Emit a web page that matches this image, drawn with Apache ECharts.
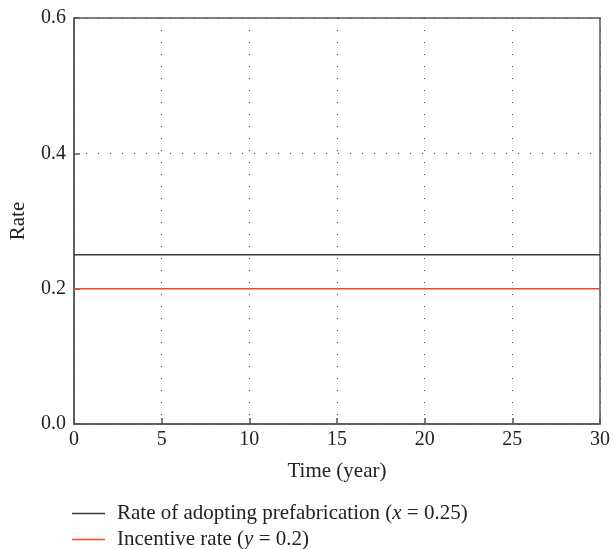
<!DOCTYPE html>
<html><head><meta charset="utf-8">
<script src="https://cdn.jsdelivr.net/npm/echarts@6/dist/echarts.min.js"></script>
<style>html,body{margin:0;padding:0;background:#fff}#c{width:613px;height:549px}</style>
</head><body><div id="c"></div>
<script>
const timeYears = [0, 30];
const adoptionRate = [0.25, 0.25];
const incentiveRate = [0.2, 0.2];
const xTicks = [0, 5, 10, 15, 20, 25, 30];
const yTicks = [0.0, 0.2, 0.4, 0.6];
const seriesNames = ['Rate of adopting prefabrication (x = 0.25)', 'Incentive rate (y = 0.2)'];

const font = '"Liberation Serif","DejaVu Serif",serif';
const axisCol = '#555';
const txt = '#222';
const fs = 20;
const fl = 21;
const legendText = {fontFamily: font, fontSize: fl, color: txt, padding: [0, 0, 0, 7],
  rich: {n: {fontFamily: font, fontSize: fl, color: txt}, i: {fontFamily: font, fontSize: fl, fontStyle: 'italic', color: txt}}};
function legendFmt(name) {
  if (name === seriesNames[0]) return '{n|Rate of adopting prefabrication (}{i|x}{n| = 0.25)}';
  return '{n|Incentive rate (}{i|y}{n| = 0.2)}';
}
const chart = echarts.init(document.getElementById('c'));
chart.setOption({
  animation: false,
  backgroundColor: '#fff',
  grid: {left: 71, right: 7, top: 18, bottom: 125, show: true, borderColor: axisCol, borderWidth: 1.5},
  legend: [
    {left: 72, top: 503, padding: 0, itemWidth: 33, itemHeight: 1.5, icon: 'rect',
      data: [seriesNames[0]], textStyle: legendText, formatter: legendFmt},
    {left: 72, top: 529, padding: 0, itemWidth: 33, itemHeight: 1.5, icon: 'rect',
      data: [seriesNames[1]], textStyle: legendText, formatter: legendFmt}
  ],
  xAxis: {
    type: 'value', min: xTicks[0], max: xTicks[xTicks.length - 1], interval: 5,
    name: 'Time (year)', nameLocation: 'middle', nameGap: 37,
    nameTextStyle: {fontFamily: font, fontSize: fl, color: txt},
    axisLine: {show: true, lineStyle: {color: axisCol, width: 1.5}},
    axisTick: {show: true, inside: true, length: 6, lineStyle: {color: axisCol, width: 1.5}},
    axisLabel: {fontFamily: font, fontSize: fs, color: txt, margin: 6},
    splitLine: {show: true, lineStyle: {color: '#444', width: 1, type: [1, 11]}}
  },
  yAxis: {
    type: 'value', min: yTicks[0], max: yTicks[yTicks.length - 1], interval: 0.2,
    name: 'Rate', nameLocation: 'middle', nameGap: 45, nameRotate: 90,
    nameTextStyle: {fontFamily: font, fontSize: fl, color: txt},
    axisLine: {show: true, lineStyle: {color: axisCol, width: 1.5}},
    axisTick: {show: true, inside: true, length: 6, lineStyle: {color: axisCol, width: 1.5}},
    axisLabel: {fontFamily: font, fontSize: fs, color: txt, margin: 8, formatter: v => v.toFixed(1)},
    splitLine: {show: true, lineStyle: {color: '#444', width: 1, type: [1, 11]}}
  },
  series: [
    {name: seriesNames[0], type: 'line', symbol: 'none', data: timeYears.map((t, i) => [t, adoptionRate[i]]),
      lineStyle: {color: '#3a3a3a', width: 1.5}, itemStyle: {color: '#3a3a3a'}},
    {name: seriesNames[1], type: 'line', symbol: 'none', data: timeYears.map((t, i) => [t, incentiveRate[i]]),
      lineStyle: {color: '#ee4a26', width: 1.5}, itemStyle: {color: '#ee4a26'}}
  ]
});
</script></body></html>
